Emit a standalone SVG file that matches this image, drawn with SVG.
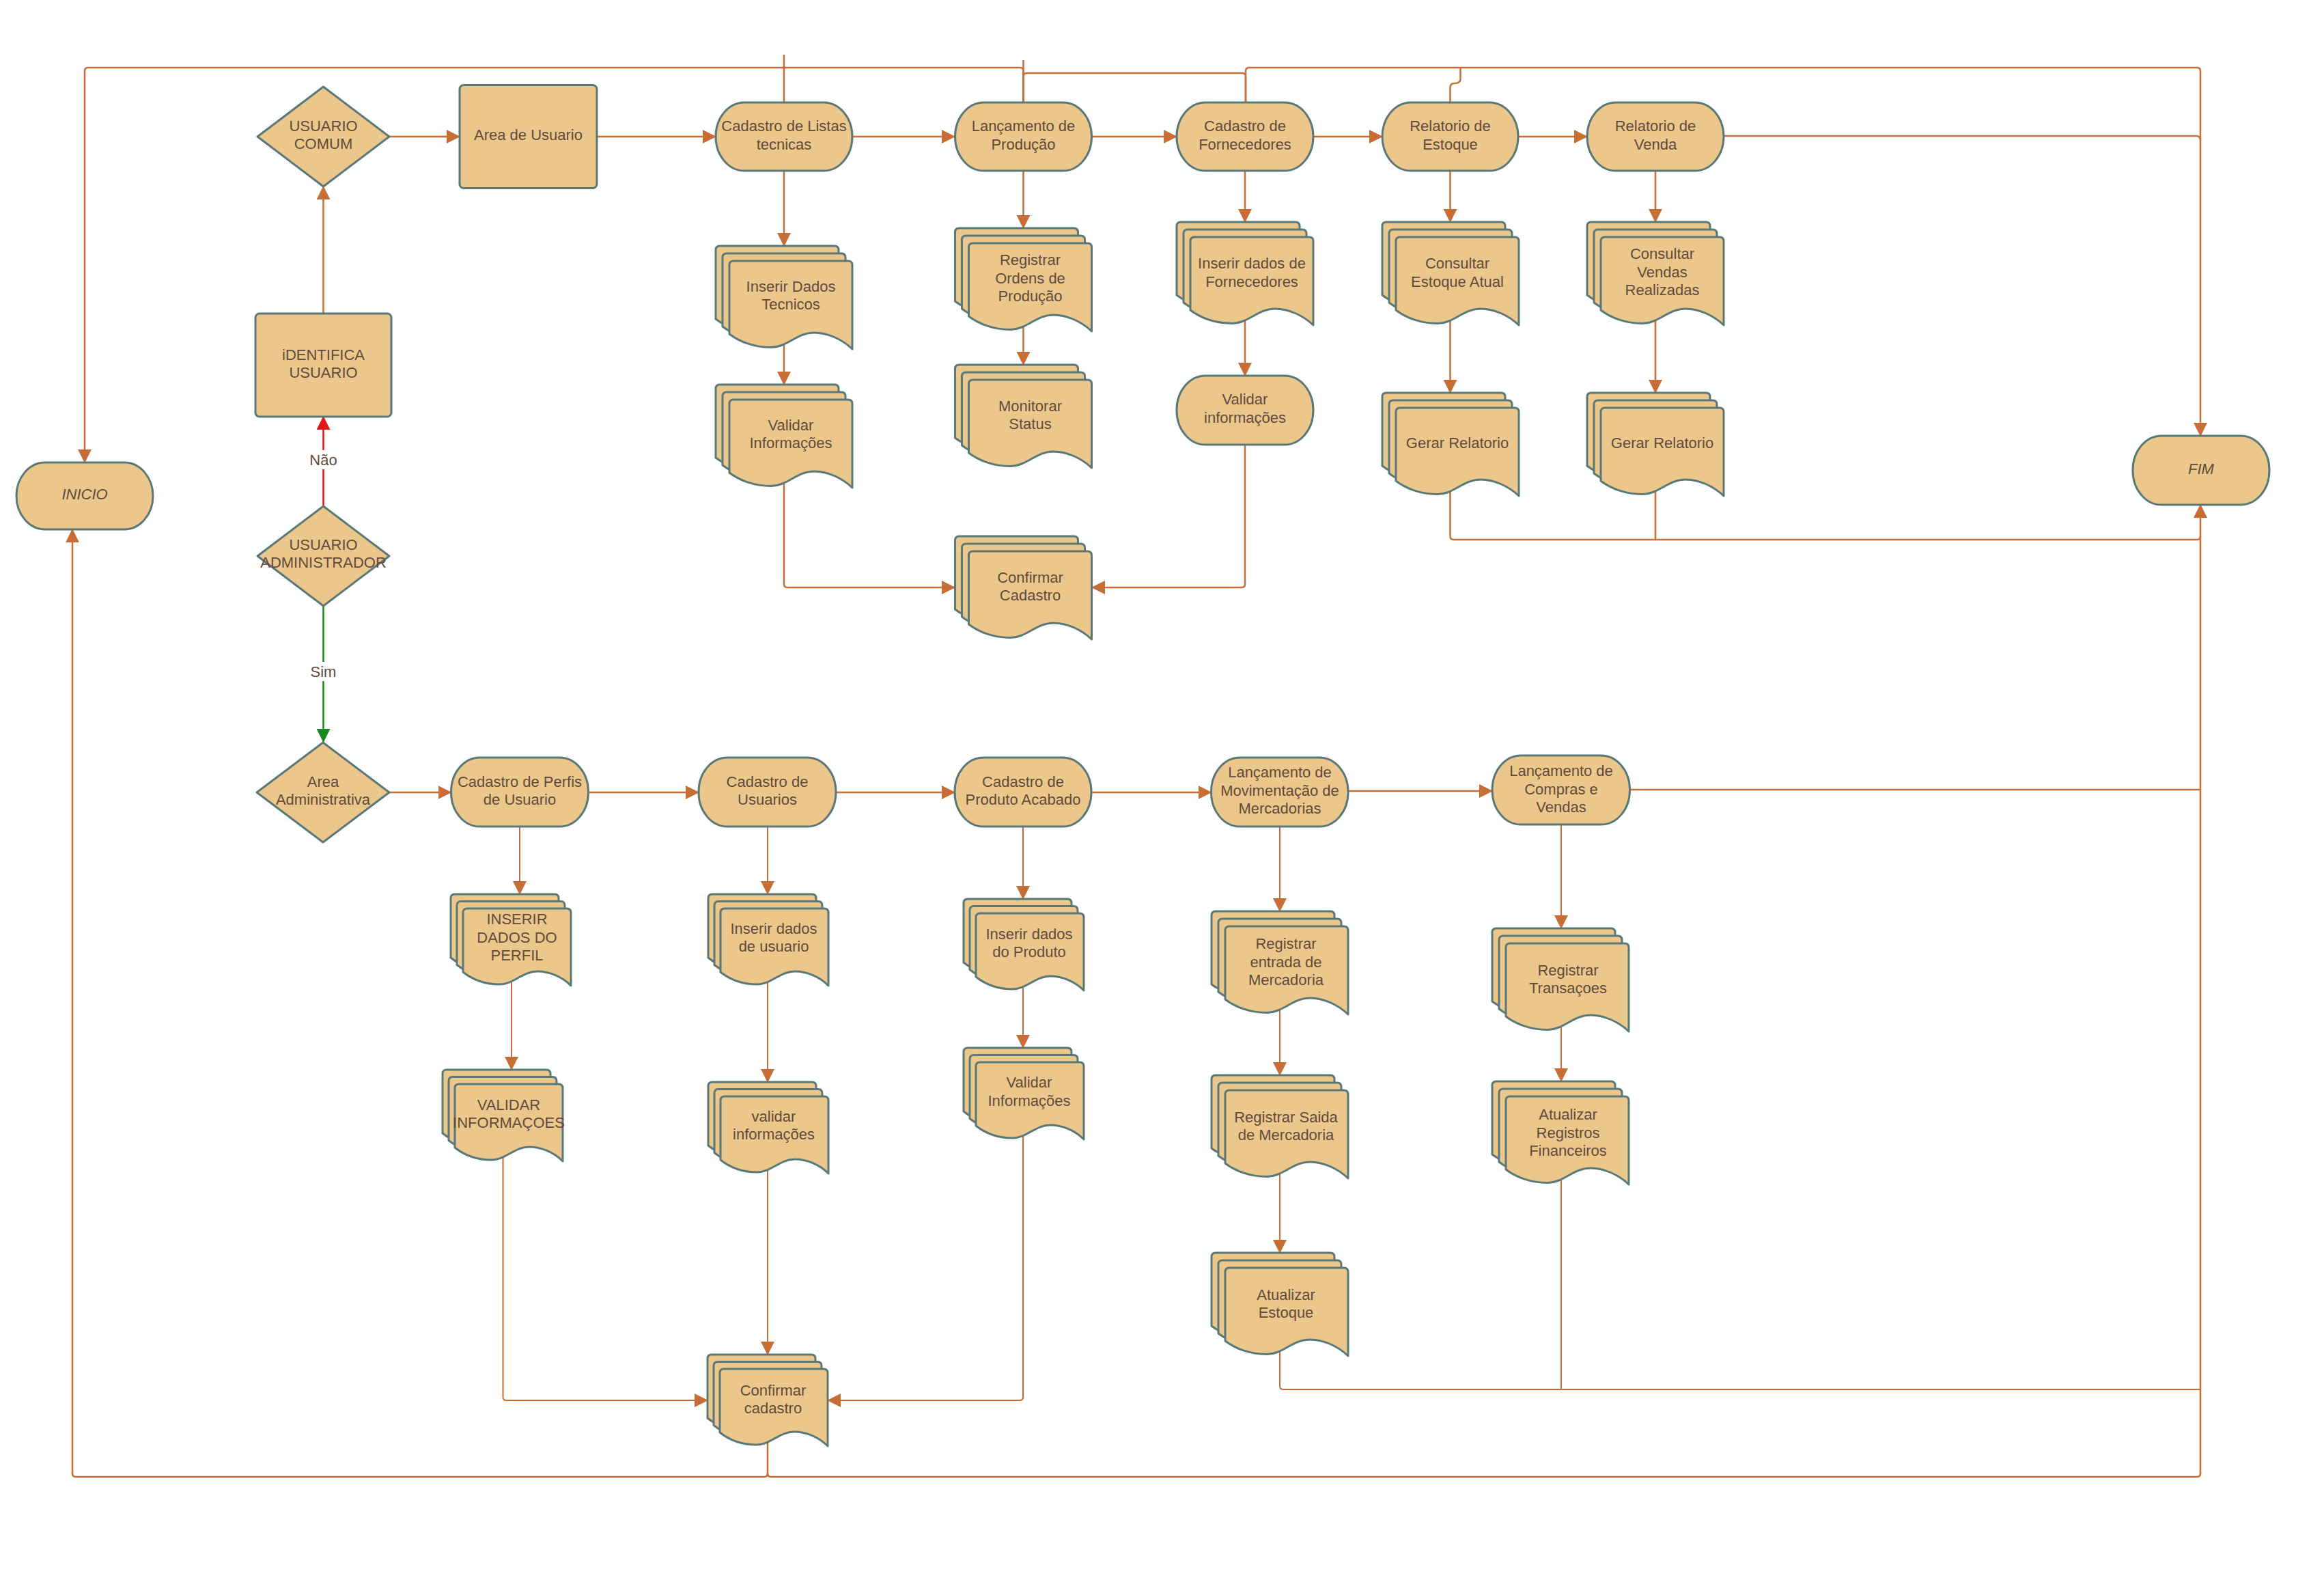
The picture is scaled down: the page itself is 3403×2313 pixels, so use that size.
<svg xmlns="http://www.w3.org/2000/svg" xmlns:xlink="http://www.w3.org/1999/xlink" width="3403" height="2313" viewBox="0 0 3403 2313">
<style>
.n{fill:#EBC78B;stroke:#5B7879;stroke-width:3;stroke-linejoin:round}
.t{font-family:"Liberation Sans",Arial,sans-serif;font-size:22px;fill:#634A3C;text-anchor:middle}
.i{font-style:italic}
.c{fill:none;stroke:#C76E36;stroke-width:2.5}
.c2{fill:none;stroke:#C76E36;stroke-width:2}
.a{marker-end:url(#ar)}
.red{fill:none;stroke:#E0161B;stroke-width:2.5;marker-end:url(#arR)}
.grn{fill:none;stroke:#17891E;stroke-width:2.5;marker-end:url(#arG)}
</style>
<defs>
<marker id="ar" viewBox="0 0 20 20" refX="19" refY="10" markerWidth="20" markerHeight="20" markerUnits="userSpaceOnUse" orient="auto"><path d="M0,0 L20,10 L0,20 Z" fill="#C76E36"/></marker>
<marker id="arR" viewBox="0 0 20 20" refX="19" refY="10" markerWidth="20" markerHeight="20" markerUnits="userSpaceOnUse" orient="auto"><path d="M0,0 L20,10 L0,20 Z" fill="#E0161B"/></marker>
<marker id="arG" viewBox="0 0 20 20" refX="19" refY="10" markerWidth="20" markerHeight="20" markerUnits="userSpaceOnUse" orient="auto"><path d="M0,0 L20,10 L0,20 Z" fill="#17891E"/></marker>
<path id="pgL" fill="#EBC78B" stroke="#5B7879" stroke-width="3" stroke-linejoin="round" d="M0,6 Q0,0 6,0 H174 Q180,0 180,6 V129 C165.6,115 144,105 124.2,105 C99,105 84.6,126.5 61.2,126.5 C36,126.5 14.4,118 0,107 Z"/>
<path id="pgS" fill="#EBC78B" stroke="#5B7879" stroke-width="3" stroke-linejoin="round" d="M0,6 Q0,0 6,0 H152 Q158,0 158,6 V113 C145.4,100 126.4,92 109,92 C86.9,92 74.3,111 53.7,111 C31.6,111 12.6,103 0,93 Z"/>
<g id="docL"><use href="#pgL"/><use href="#pgL" x="10" y="11"/><use href="#pgL" x="20" y="22"/></g>
<g id="docS"><use href="#pgS"/><use href="#pgS" x="9" y="10.5"/><use href="#pgS" x="18" y="21"/></g>
</defs>
<rect width="3403" height="2313" fill="#FFFFFF"/>

<g id="connectors">
<!-- top row horizontal -->
<path class="c a" d="M570,200 H673"/>
<path class="c a" d="M874,200 H1048"/>
<path class="c a" d="M1248,200 H1398"/>
<path class="c a" d="M1599,200 H1723"/>
<path class="c a" d="M1923,200 H2024"/>
<path class="c a" d="M2223,200 H2324"/>
<!-- left column -->
<path class="c a" d="M473.5,459 V273"/>
<path class="red" d="M473.5,741 V610"/>
<path class="grn" d="M473.5,887 V1086"/>
<!-- top verticals -->
<path class="c a" d="M1148,250 V360"/>
<path class="c a" d="M1148,500 V563"/>
<path class="c a" d="M1498.5,250 V334"/>
<path class="c a" d="M1498.5,475 V534"/>
<path class="c a" d="M1148,700 V855 Q1148,860 1153,860 H1398"/>
<path class="c a" d="M1823,651 V855 Q1823,860 1818,860 H1599"/>
<path class="c a" d="M1823,250 V325"/>
<path class="c a" d="M1823,465 V550"/>
<path class="c a" d="M2123.5,250 V325"/>
<path class="c a" d="M2123.5,465 V575"/>
<path class="c a" d="M2424,250 V325"/>
<path class="c a" d="M2424,465 V575"/>
<path class="c" d="M2123.5,715 V785 Q2123.5,790 2128.5,790 H3217 Q3222,790 3222,785"/>
<path class="c" d="M2424,715 V790"/>
<!-- top loops -->
<path class="c a" d="M1498.5,150 V104 Q1498.5,99 1493.5,99 H129 Q124,99 124,104 V677"/>
<path class="c" d="M1148,80 V150"/>
<path class="c" d="M1498.5,88 V150"/>
<path class="c" d="M1498.5,150 V112 Q1498.5,107 1503.5,107 H1819 Q1824,107 1824,112 V150"/>
<path class="c a" d="M1824,150 V104 Q1824,99 1829,99 H3217 Q3222,99 3222,104 V638"/>
<path class="c" d="M2123.5,150 V128 Q2123.5,122 2130,122 Q2138.5,122 2138.5,115 V99"/>
<path class="c" d="M2524,199 H3216 Q3222,199 3222,205"/>
<!-- bottom row horizontal -->
<path class="c a" d="M570,1160 H660.5"/>
<path class="c a" d="M861.5,1160 H1023"/>
<path class="c a" d="M1224,1160 H1398"/>
<path class="c a" d="M1598,1160 H1773.5"/>
<path class="c a" d="M1974,1158 H2185"/>
<path class="c" d="M2386.5,1156 H3222"/>
<!-- bottom verticals -->
<path class="c2 a" d="M761,1210 V1309"/>
<path class="c2 a" d="M749,1430 V1566"/>
<path class="c2 a" d="M736.5,1690 V2045 Q736.5,2050 741.5,2050 H1036"/>
<path class="c2 a" d="M1124,1210 V1309"/>
<path class="c2 a" d="M1124,1435 V1584"/>
<path class="c2 a" d="M1124,1710 V1983"/>
<path class="c2 a" d="M1498,1210 V1316"/>
<path class="c2 a" d="M1498,1440 V1534"/>
<path class="c2 a" d="M1498,1660 V2045 Q1498,2050 1493,2050 H1212"/>
<path class="c2 a" d="M1874,1210 V1334"/>
<path class="c2 a" d="M1874,1475 V1574"/>
<path class="c2 a" d="M1874,1715 V1834"/>
<path class="c2" d="M1874,1975 V2029 Q1874,2034 1879,2034 H3222"/>
<path class="c2 a" d="M2286,1207 V1359"/>
<path class="c2 a" d="M2286,1500 V1583"/>
<path class="c2" d="M2286,1725 V2034"/>
<path class="c a" d="M1124,2110 V2157 Q1124,2162 1119,2162 H111 Q106,2162 106,2157 V775"/>
<path class="c a" d="M1124,2157 Q1124,2162 1129,2162 H3217 Q3222,2162 3222,2157 V739"/>
<!-- labels -->
<rect x="451" y="659" width="45" height="28" fill="#FFFFFF"/>
<text class="t" x="473.5" y="680.7">Não</text>
<rect x="453" y="969" width="41" height="28" fill="#FFFFFF"/>
<text class="t" x="473.5" y="990.7">Sim</text>
</g>

<!-- top row nodes -->
<g id="n-usuario-comum"><polygon class="n" points="473.5,127 570,200 473.5,273 377,200"/><text class="t"><tspan x="473.5" y="191.5">USUARIO</tspan><tspan x="473.5" y="218">COMUM</tspan></text></g>
<g id="n-area-usuario"><rect class="n" x="673" y="124.5" width="201" height="151" rx="6"/><text class="t" x="773.5" y="205.2">Area de Usuario</text></g>
<g id="n-cad-listas"><rect class="n" x="1048" y="150" width="200" height="100" rx="42" ry="50"/><text class="t"><tspan x="1148" y="192">Cadastro de Listas</tspan><tspan x="1148" y="218.5">tecnicas</tspan></text></g>
<g id="n-lanc-producao"><rect class="n" x="1398.5" y="150" width="200" height="100" rx="42" ry="50"/><text class="t"><tspan x="1498.5" y="192">Lançamento de</tspan><tspan x="1498.5" y="218.5">Produção</tspan></text></g>
<g id="n-cad-fornecedores"><rect class="n" x="1723" y="150" width="200" height="100" rx="42" ry="50"/><text class="t"><tspan x="1823" y="192">Cadastro de</tspan><tspan x="1823" y="218.5">Fornecedores</tspan></text></g>
<g id="n-rel-estoque"><rect class="n" x="2024" y="150" width="199" height="100" rx="42" ry="50"/><text class="t"><tspan x="2123.5" y="192">Relatorio de</tspan><tspan x="2123.5" y="218.5">Estoque</tspan></text></g>
<g id="n-rel-venda"><rect class="n" x="2324" y="150" width="200" height="100" rx="42" ry="50"/><text class="t"><tspan x="2424" y="192">Relatorio de</tspan><tspan x="2424" y="218.5">Venda</tspan></text></g>
<g id="n-fim"><rect class="n" x="3123" y="638" width="200" height="101" rx="42" ry="50"/><text class="t i" x="3223" y="694.2">FIM</text></g>
<g id="n-inicio"><rect class="n" x="24" y="677" width="200" height="98" rx="42" ry="49"/><text class="t i" x="124" y="731.2">INICIO</text></g>
<g id="n-identifica"><rect class="n" x="374" y="459" width="199" height="151" rx="6"/><text class="t"><tspan x="473.5" y="526.5">iDENTIFICA</tspan><tspan x="473.5" y="553">USUARIO</tspan></text></g>
<g id="n-usuario-admin"><polygon class="n" points="473.5,741 570,814 473.5,887 377,814"/><text class="t"><tspan x="473.5" y="804.5">USUARIO</tspan><tspan x="473.5" y="831">ADMINISTRADOR</tspan></text></g>

<g id="d-inserir-dados-tecnicos"><use href="#docL" x="1048" y="360"/><text class="t"><tspan x="1158" y="426.5">Inserir Dados</tspan><tspan x="1158" y="453">Tecnicos</tspan></text></g>
<g id="d-validar-info-1"><use href="#docL" x="1048" y="563"/><text class="t"><tspan x="1158" y="629.5">Validar</tspan><tspan x="1158" y="656">Informações</tspan></text></g>
<g id="d-registrar-ordens"><use href="#docL" x="1398.5" y="334"/><text class="t"><tspan x="1508.5" y="388.2">Registrar</tspan><tspan x="1508.5" y="414.7">Ordens de</tspan><tspan x="1508.5" y="441.2">Produção</tspan></text></g>
<g id="d-monitorar"><use href="#docL" x="1398.5" y="534"/><text class="t"><tspan x="1508.5" y="601.5">Monitorar</tspan><tspan x="1508.5" y="628">Status</tspan></text></g>
<g id="d-confirmar-cadastro-1"><use href="#docL" x="1398.5" y="785"/><text class="t"><tspan x="1508.5" y="852.5">Confirmar</tspan><tspan x="1508.5" y="879">Cadastro</tspan></text></g>
<g id="d-inserir-fornecedores"><use href="#docL" x="1723" y="325"/><text class="t"><tspan x="1833" y="393">Inserir dados de</tspan><tspan x="1833" y="419.5">Fornecedores</tspan></text></g>
<g id="n-validar-info-forn"><rect class="n" x="1723" y="550" width="200" height="101" rx="42" ry="50"/><text class="t"><tspan x="1823" y="592">Validar</tspan><tspan x="1823" y="618.5">informações</tspan></text></g>
<g id="d-consultar-estoque"><use href="#docL" x="2024" y="325"/><text class="t"><tspan x="2134" y="393">Consultar</tspan><tspan x="2134" y="419.5">Estoque Atual</tspan></text></g>
<g id="d-gerar-rel-estoque"><use href="#docL" x="2024" y="575"/><text class="t" x="2134" y="655.5">Gerar Relatorio</text></g>
<g id="d-consultar-vendas"><use href="#docL" x="2324" y="325"/><text class="t"><tspan x="2434" y="379.2">Consultar</tspan><tspan x="2434" y="405.7">Vendas</tspan><tspan x="2434" y="432.2">Realizadas</tspan></text></g>
<g id="d-gerar-rel-venda"><use href="#docL" x="2324" y="575"/><text class="t" x="2434" y="655.5">Gerar Relatorio</text></g>

<!-- bottom row nodes -->
<g id="n-area-admin"><polygon class="n" points="473,1087 570,1160 473,1233 376,1160"/><text class="t"><tspan x="473" y="1151.5">Area</tspan><tspan x="473" y="1178">Administrativa</tspan></text></g>
<g id="n-cad-perfis"><rect class="n" x="660.5" y="1109" width="201" height="101" rx="42" ry="50"/><text class="t"><tspan x="761" y="1151.5">Cadastro de Perfis</tspan><tspan x="761" y="1178">de Usuario</tspan></text></g>
<g id="n-cad-usuarios"><rect class="n" x="1023" y="1109" width="201" height="101" rx="42" ry="50"/><text class="t"><tspan x="1123.5" y="1151.5">Cadastro de</tspan><tspan x="1123.5" y="1178">Usuarios</tspan></text></g>
<g id="n-cad-produto"><rect class="n" x="1398" y="1109" width="200" height="101" rx="42" ry="50"/><text class="t"><tspan x="1498" y="1151.5">Cadastro de</tspan><tspan x="1498" y="1178">Produto Acabado</tspan></text></g>
<g id="n-lanc-mov"><rect class="n" x="1773.5" y="1109" width="200.5" height="101" rx="42" ry="50"/><text class="t"><tspan x="1874" y="1138.2">Lançamento de</tspan><tspan x="1874" y="1164.7">Movimentação de</tspan><tspan x="1874" y="1191.2">Mercadorias</tspan></text></g>
<g id="n-lanc-compras"><rect class="n" x="2185" y="1106" width="201.5" height="101" rx="42" ry="50"/><text class="t"><tspan x="2286" y="1136.2">Lançamento de</tspan><tspan x="2286" y="1162.7">Compras e</tspan><tspan x="2286" y="1189.2">Vendas</tspan></text></g>

<g id="d-inserir-perfil"><use href="#docS" x="660" y="1309"/><text class="t"><tspan x="757" y="1353.2">INSERIR</tspan><tspan x="757" y="1379.7">DADOS DO</tspan><tspan x="757" y="1406.2">PERFIL</tspan></text></g>
<g id="d-validar-perfil"><use href="#docS" x="648" y="1566"/><text class="t"><tspan x="745" y="1624.8">VALIDAR</tspan><tspan x="745" y="1651.3">INFORMAÇOES</tspan></text></g>
<g id="d-inserir-usuario"><use href="#docS" x="1037" y="1309"/><text class="t"><tspan x="1133" y="1366.8">Inserir dados</tspan><tspan x="1133" y="1393.3">de usuario</tspan></text></g>
<g id="d-validar-usuario"><use href="#docS" x="1037" y="1584"/><text class="t"><tspan x="1133" y="1641.8">validar</tspan><tspan x="1133" y="1668.3">informações</tspan></text></g>
<g id="d-inserir-produto"><use href="#docS" x="1411" y="1316"/><text class="t"><tspan x="1507" y="1374.8">Inserir dados</tspan><tspan x="1507" y="1401.3">do Produto</tspan></text></g>
<g id="d-validar-produto"><use href="#docS" x="1411" y="1534"/><text class="t"><tspan x="1507" y="1592.2">Validar</tspan><tspan x="1507" y="1618.7">Informações</tspan></text></g>
<g id="d-registrar-entrada"><use href="#docL" x="1774" y="1334"/><text class="t"><tspan x="1883" y="1389.2">Registrar</tspan><tspan x="1883" y="1415.7">entrada de</tspan><tspan x="1883" y="1442.2">Mercadoria</tspan></text></g>
<g id="d-registrar-saida"><use href="#docL" x="1774" y="1574"/><text class="t"><tspan x="1883" y="1642.7">Registrar Saida</tspan><tspan x="1883" y="1669.2">de Mercadoria</tspan></text></g>
<g id="d-atualizar-estoque"><use href="#docL" x="1774" y="1834"/><text class="t"><tspan x="1883" y="1902.5">Atualizar</tspan><tspan x="1883" y="1929">Estoque</tspan></text></g>
<g id="d-registrar-transacoes"><use href="#docL" x="2185" y="1359"/><text class="t"><tspan x="2296" y="1427.5">Registrar</tspan><tspan x="2296" y="1454">Transaçoes</tspan></text></g>
<g id="d-atualizar-financeiros"><use href="#docL" x="2185" y="1583"/><text class="t"><tspan x="2296" y="1639.2">Atualizar</tspan><tspan x="2296" y="1665.7">Registros</tspan><tspan x="2296" y="1692.2">Financeiros</tspan></text></g>
<g id="d-confirmar-cadastro-2"><use href="#docS" x="1036" y="1983"/><text class="t"><tspan x="1132" y="2042.5">Confirmar</tspan><tspan x="1132" y="2069">cadastro</tspan></text></g>
</svg>
